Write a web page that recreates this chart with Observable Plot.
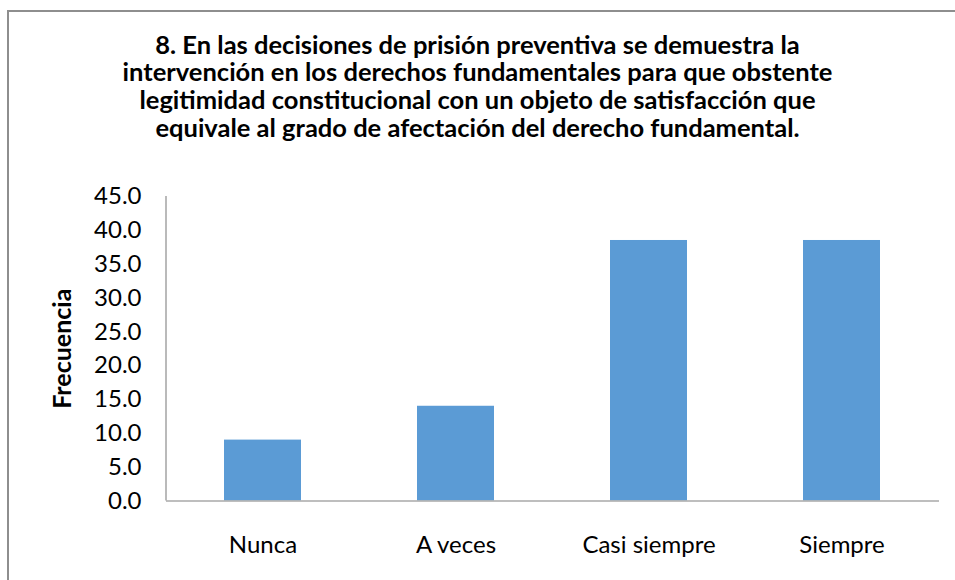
<!DOCTYPE html>
<html>
<head>
<meta charset="utf-8">
<script src="https://cdn.jsdelivr.net/npm/d3@7"></script>
<script src="https://cdn.jsdelivr.net/npm/@observablehq/plot@0.6"></script>
<style>
  body { margin: 0; background: #ffffff; }
  #wrap { position: relative; width: 955px; height: 580px; overflow: hidden; background: #ffffff; font-family: Lato, "Open Sans", sans-serif; }
  #frame { position: absolute; left: 7px; top: 10px; width: 1200px; height: 1200px; border-left: 2px solid #8e8e8e; border-top: 2px solid #8e8e8e; box-sizing: border-box; pointer-events: none; }
  #title { height: 170px; box-sizing: border-box; padding-top: 30.5px; text-align: center; font-weight: bold; font-size: 25.5px; line-height: 27.8px; color: #000; }
  #chart svg { display: block; }
</style>
</head>
<body>
<div id="wrap">
  <div id="title"></div>
  <div id="chart"></div>
  <div id="frame"></div>
</div>
<script>
const titleLines = [
  "8. En las decisiones de prisión preventiva se demuestra la",
  "intervención en los derechos fundamentales para que obstente",
  "legitimidad constitucional con un objeto de satisfacción que",
  "equivale al grado de afectación del derecho fundamental."
];
const categories = ["Nunca", "A veces", "Casi siempre", "Siempre"];
const values = [9.0, 14.0, 38.5, 38.5];
const yTicks = [0, 5, 10, 15, 20, 25, 30, 35, 40, 45];
const yLabel = "Frecuencia";

const titleEl = document.getElementById("title");
titleLines.forEach(t => { const d = document.createElement("div"); d.textContent = t; titleEl.appendChild(d); });

const data = categories.map((c, i) => ({categoria: c, frecuencia: values[i]}));

const axisColor = "#a9a9a9";

// left axis line drawn from the plot's own scales and dimensions
function leftAxisLine(index, scales, values, dims) {
  const g = d3.create("svg:g");
  const y0 = scales.y(0), y1 = scales.y(45);
  g.append("line")
    .attr("x1", dims.marginLeft).attr("x2", dims.marginLeft)
    .attr("y1", y1).attr("y2", y0)
    .attr("stroke", axisColor).attr("stroke-width", 1.6);
  return g.node();
}

const chart = Plot.plot({
  width: 955,
  height: 410,
  marginLeft: 166,
  marginRight: 16,
  marginTop: 26,
  marginBottom: 79.5,
  style: {fontFamily: "Lato, 'Open Sans', sans-serif", fontSize: "24px", color: "#000", background: "transparent", overflow: "visible"},
  x: {domain: categories, paddingInner: 0.6, paddingOuter: 0.3, label: null, tickSize: 0, tickPadding: 35},
  y: {domain: [0, 45], ticks: yTicks, tickFormat: d => d.toFixed(1), tickSize: 0, tickPadding: 25, label: null},
  marks: [
    Plot.barY(data, {x: "categoria", y: "frecuencia", fill: "#5b9bd5"}),
    Plot.ruleY([0], {stroke: axisColor, strokeWidth: 1.6}),
    leftAxisLine,
    Plot.text([yLabel], {frameAnchor: "left", dx: -104, rotate: -90, textAnchor: "middle", fontWeight: "bold", fontSize: 25, fill: "#000"})
  ]
});
document.getElementById("chart").appendChild(chart);
</script>
</body>
</html>
